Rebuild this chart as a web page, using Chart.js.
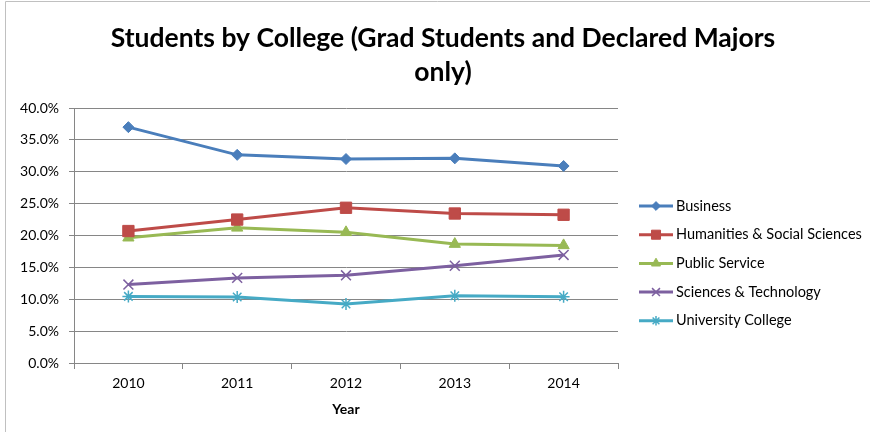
<!DOCTYPE html>
<html>
<head>
<meta charset="utf-8">
<script src="https://cdn.jsdelivr.net/npm/chart.js@4"></script>
<style>
  html, body { margin: 0; padding: 0; background: #fff; }
  #wrap { width: 870px; height: 432px; }
</style>
</head>
<body>
<div id="wrap"><canvas id="myChart" width="870" height="432"></canvas></div>
<script>
// dados
const years = ['2010', '2011', '2012', '2013', '2014'];
const business = [37.0, 32.65, 32.0, 32.1, 30.9];
const humanities = [20.7, 22.5, 24.35, 23.45, 23.25];
const publicService = [19.65, 21.2, 20.5, 18.65, 18.45];
const sciTech = [12.3, 13.35, 13.75, 15.25, 16.95];
const univCollege = [10.45, 10.35, 9.25, 10.55, 10.4];
const titleLines = ['Students by College (Grad Students and Declared Majors', 'only)'];
const fontFamily = 'Lato, "Open Sans", sans-serif';

function makeSet(label, data, color, style, radius, pbw) {
    return {
        label: label,
        data: data,
        borderColor: color,
        backgroundColor: color,
        borderWidth: 3,
        pointStyle: style,
        pointRadius: radius,
        pointHoverRadius: radius,
        pointBorderWidth: pbw,
        pointBackgroundColor: color,
        pointBorderColor: color,
        tension: 0
    };
}

// título e legenda desenhados à mão
const customDraw = {
    id: 'customDraw',
    afterDraw(chart) {
        const ctx = chart.ctx;
        ctx.save();
        // borda do gráfico
        ctx.strokeStyle = '#c0c0c0';
        ctx.lineWidth = 1;
        ctx.beginPath();
        ctx.moveTo(5.5, 432);
        ctx.lineTo(5.5, 1.5);
        ctx.lineTo(870, 1.5);
        ctx.stroke();

        // título
        ctx.fillStyle = '#000';
        ctx.font = 'bold 26.5px ' + fontFamily;
        ctx.textAlign = 'center';
        ctx.textBaseline = 'middle';
        titleLines.forEach((t, i) => ctx.fillText(t, 443, 38 + i * 34));

        // legenda
        ctx.font = '14.5px ' + fontFamily;
        ctx.textAlign = 'left';
        chart.data.datasets.forEach((ds, i) => {
            const y = 206 + i * 28.7;
            ctx.strokeStyle = ds.borderColor;
            ctx.lineWidth = 3;
            ctx.beginPath();
            ctx.moveTo(639, y);
            ctx.lineTo(673, y);
            ctx.stroke();
            ctx.fillStyle = ds.borderColor;
            ctx.lineWidth = ds.pointBorderWidth;
            Chart.helpers.drawPoint(ctx, { pointStyle: ds.pointStyle, radius: ds.pointRadius * 0.8, rotation: 0, borderWidth: ds.pointBorderWidth }, 656, y);
            ctx.fillStyle = '#000';
            ctx.fillText(ds.label, 676, y);
        });
        ctx.restore();
    }
};

const ctx = document.getElementById('myChart').getContext('2d');
const myChart = new Chart(ctx, {
    type: 'line',
    data: {
        labels: years,
        datasets: [
            makeSet('Business', business, '#4A7EBB', 'rectRot', 5.5, 1),
            makeSet('Humanities & Social Sciences', humanities, '#BE4B48', 'rect', 8, 1),
            makeSet('Public Service', publicService, '#98B954', 'triangle', 6.5, 1),
            makeSet('Sciences & Technology', sciTech, '#7D60A0', 'crossRot', 7, 1.5),
            makeSet('University College', univCollege, '#46AAC5', 'star', 6, 1.5)
        ]
    },
    options: {
        responsive: false,
        animation: false,
        layout: { padding: { top: 108, right: 252, left: 0, bottom: 0 } },
        plugins: {
            legend: { display: false },
            title: { display: false },
            tooltip: { enabled: false }
        },
        scales: {
            x: {
                afterFit(scale) { scale.height = 69; },
                offset: true,
                grid: { display: true, drawOnChartArea: false, offset: true, tickLength: 6, color: '#868686' },
                border: { color: '#868686', width: 1 },
                ticks: { color: '#000', font: { family: fontFamily, size: 14 }, padding: 6, maxRotation: 0 },
                title: { display: true, text: 'Year', color: '#000', font: { family: fontFamily, size: 14, weight: 'bold' }, padding: { top: 0, bottom: 14 } }
            },
            y: {
                afterFit(scale) { scale.width = 74; },
                min: 0,
                max: 40,
                grid: { color: '#868686', tickLength: 5 },
                border: { color: '#868686', width: 1 },
                ticks: {
                    stepSize: 5,
                    color: '#000',
                    font: { family: fontFamily, size: 14 },
                    padding: 10,
                    callback: v => v.toFixed(1) + '%'
                }
            }
        }
    },
    plugins: [customDraw]
});
</script>
</body>
</html>
